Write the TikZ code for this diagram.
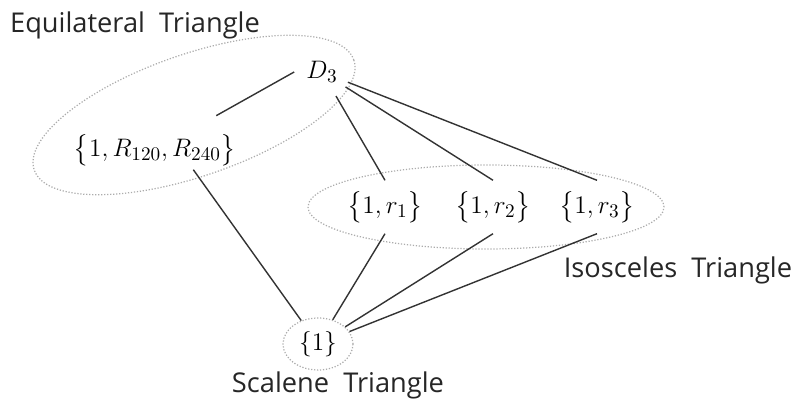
\documentclass[tikz,border=0pt]{standalone}
\usepackage{amsmath,amssymb}
\usepackage{fontspec}
\newfontfamily\labelfont{Open Sans}
\usetikzlibrary{calc,shapes.geometric}

\begin{document}
\begin{tikzpicture}[
    x=0.02cm,y=0.02cm,
    set/.style={inner sep=2pt,font=\fontsize{15}{18}\selectfont},
    lbl/.style={font=\labelfont\fontsize{15.5}{19}\selectfont,text=black!85},
    grp/.style={draw=gray!65,densely dotted,line width=.7pt},
    e/.style={line width=.8pt,black!80}
  ]
    \useasboundingbox (0,0) rectangle (795,403);
    % groups
    \draw[grp,rotate around={19:(194,288)}] (194,288) ellipse [x radius=169,y radius=61];
    \draw[grp] (486,196) ellipse [x radius=178,y radius=42];
    % subgroups
    \node[set,circle,minimum size=1.1cm] (d3) at (322,331) {$D_3$};
    \node[set] (r) at (155,253) {$\bigl\{1,R_{120},R_{240}\bigr\}$};
    \node[set,inner sep=6pt] (r1) at (385,196) {$\bigl\{1,r_1\bigr\}$};
    \node[set,inner sep=6pt] (r2) at (493,196) {$\bigl\{1,r_2\bigr\}$};
    \node[set,inner sep=6pt] (r3) at (597,196) {$\bigl\{1,r_3\bigr\}$};
    \node[set,grp,ellipse,inner sep=0pt,minimum width=1.4cm,minimum height=1.04cm] (one) at (318,59) {$\{1\}$};
    % labels
    \node[lbl] (eq) at (135,378) {Equilateral\ \ Triangle};
    \node[lbl] (iso) at (678,133) {Isosceles\ \ Triangle};
    \node[lbl] (sca) at (338,18) {Scalene\ \ Triangle};
    % inclusions
    \draw[e,shorten >=0.6cm] (d3.west) -- (r);
    \foreach \t in {r1,r2,r3} {\draw[e] (d3) -- (\t.north);}
    \foreach \t in {r1,r2,r3} {\draw[e] (one) -- (\t.south);}
    \draw[e] ($(r.south)!.45!(r.south east)$) -- (one);
  \end{tikzpicture}
\end{document}
